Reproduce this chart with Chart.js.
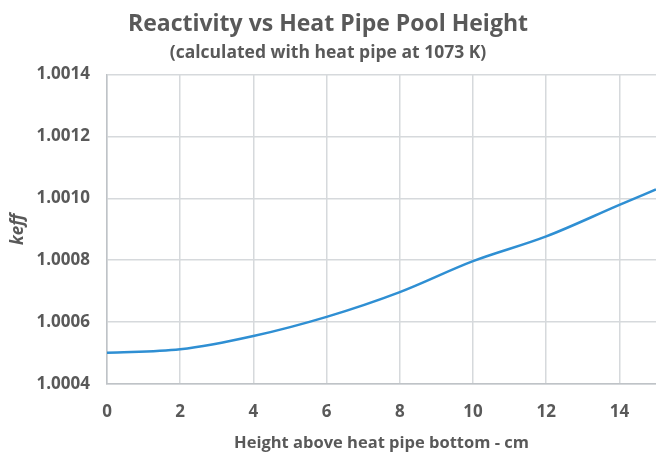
<!DOCTYPE html>
<html>
<head>
<meta charset="utf-8">
<style>
  html, body { margin: 0; padding: 0; background: #fff; }
  #wrap { width: 656px; height: 454px; }
</style>
</head>
<body>
<div id="wrap"><canvas id="keffChart" width="656" height="454"></canvas></div>
<script src="https://cdn.jsdelivr.net/npm/chart.js@4"></script>
<script>
  // pool height (cm) and keff
  const heights = [0, 2, 4, 6, 8, 10, 12, 14, 15];
  const keff = [1.000501, 1.000512, 1.000555, 1.000617, 1.000697, 1.000797, 1.000877, 1.000979, 1.001029];
  const xTicks = [0, 2, 4, 6, 8, 10, 12, 14];
  const yTicks = [1.0004, 1.0006, 1.0008, 1.0010, 1.0012, 1.0014];

  const grey = '#595959';
  const gridGrey = '#d6d9dc';
  const fontFam = "'Open Sans', 'Noto Sans', sans-serif";

  new Chart(document.getElementById('keffChart'), {
    type: 'line',
    data: {
      datasets: [{
        data: heights.map((h, i) => ({ x: h, y: keff[i] })),
        borderColor: '#2F8FD3',
        borderWidth: 2.5,
        pointRadius: 0,
        fill: false,
        cubicInterpolationMode: 'monotone'
      }]
    },
    options: {
      responsive: false,
      animation: false,
      layout: { padding: { left: 0, right: 0, top: 0, bottom: 0 } },
      plugins: {
        legend: { display: false },
        tooltip: { enabled: false },
        title: {
          display: true,
          text: 'Reactivity vs Heat Pipe Pool Height',
          color: grey,
          font: { family: fontFam, size: 23, weight: 'bold' },
          padding: { top: 11, bottom: 2 }
        },
        subtitle: {
          display: true,
          text: '(calculated with heat pipe at 1073 K)',
          color: grey,
          font: { family: fontFam, size: 17.5, weight: 'bold' },
          padding: { top: 2, bottom: 11 }
        }
      },
      scales: {
        x: {
          type: 'linear',
          min: 0,
          max: 15,
          afterBuildTicks: s => { s.ticks = xTicks.map(v => ({ value: v })); },
          afterFit: s => { s.height = 70; },
          grid: { color: gridGrey, lineWidth: 1.5, drawTicks: false },
          border: { color: '#bfc3c7', width: 1.5 },
          ticks: {
            color: grey,
            padding: 18,
            maxRotation: 0,
            font: { family: fontFam, size: 17, weight: 'bold' }
          },
          title: {
            display: true,
            text: 'Height above heat pipe bottom - cm',
            color: grey,
            font: { family: fontFam, size: 16.5, weight: 'bold' },
            padding: { top: 6, bottom: 1 }
          }
        },
        y: {
          min: 1.0004,
          max: 1.0014,
          afterBuildTicks: s => { s.ticks = yTicks.map(v => ({ value: v })); },
          afterFit: s => { s.width = 107; },
          grid: { color: gridGrey, lineWidth: 1.5, drawTicks: false },
          border: { color: '#bfc3c7', width: 1.5 },
          ticks: {
            color: grey,
            padding: 17,
            font: { family: fontFam, size: 17, weight: 'bold' },
            callback: v => v.toFixed(4)
          },
          title: {
            display: true,
            text: 'keff',
            color: grey,
            font: { family: fontFam, size: 17, weight: 'bold', style: 'italic' },
            padding: { top: 8, bottom: 0 }
          }
        }
      }
    }
  });
</script>
</body>
</html>
